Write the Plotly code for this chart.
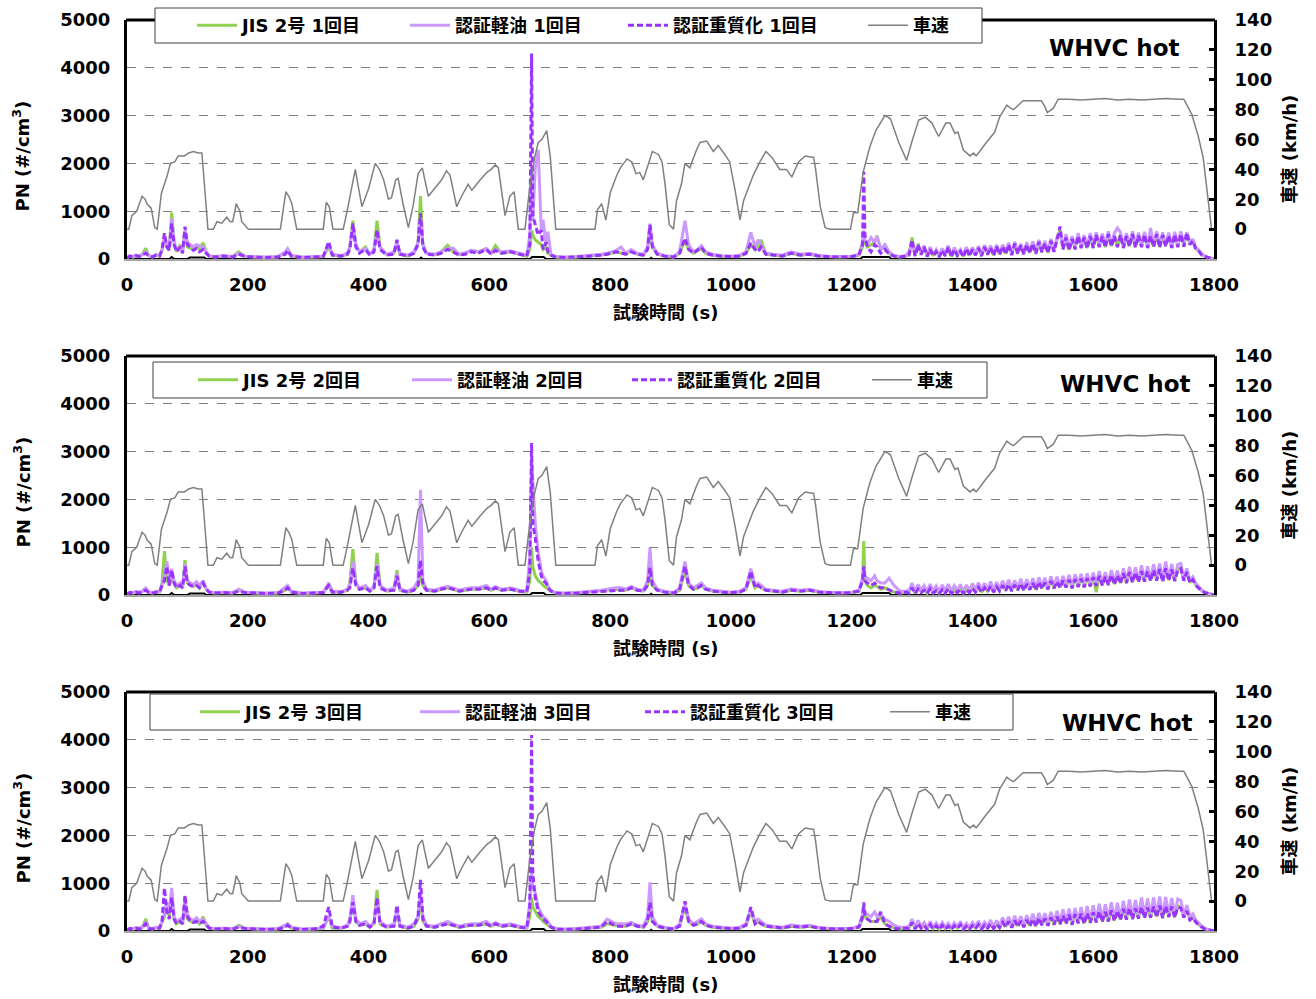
import plotly.graph_objects as go

W, H = 1316, 999
FONT = "DejaVu Sans, Noto Sans CJK JP, sans-serif"

X_TICKS = [0, 200, 400, 600, 800, 1000, 1200, 1400, 1600, 1800]
PN_TICKS = [0, 1000, 2000, 3000, 4000, 5000]
SPEED_TICKS = [0, 20, 40, 60, 80, 100, 120, 140]

RUN_LABELS = ["1回目", "2回目", "3回目"]
FUEL_NAMES = ["JIS 2号", "認証軽油", "認証重質化"]
SPEED_NAME = "車速"

# vehicle speed (s, km/h)
SPEED = [(0, 0), (3, 0), (8, 9), (16, 12), (25, 22), (30, 20), (33, 17), (40, 14), (46, 1), (50, 0),
         (57, 24), (66, 35), (72, 44), (79, 45), (85, 49), (95, 49), (102, 51), (110, 52), (118, 51), (124, 51),
         (129, 26), (134, 0), (143, 0), (149, 5), (157, 4), (165, 8), (171, 5), (175, 5), (181, 17), (187, 12),
         (190, 5), (201, 0), (254, 0), (263, 25), (268, 22), (273, 17), (281, 0), (325, 0), (330, 18), (335, 15),
         (341, 0), (358, 0), (364, 11), (378, 40), (389, 15), (400, 27), (411, 44), (418, 40), (425, 33), (433, 20),
         (438, 21), (445, 33), (449, 34), (457, 17), (466, 1), (474, 16), (482, 37), (489, 41), (499, 22), (507, 26),
         (521, 33), (529, 39), (535, 36), (546, 15), (554, 22), (565, 30), (571, 26), (585, 33), (596, 38), (603, 40),
         (610, 43), (615, 41), (620, 26), (626, 9), (634, 22), (641, 25), (648, 0), (659, 0), (667, 28), (675, 48),
         (681, 58), (687, 60), (695, 66), (701, 48), (710, 0), (775, 0), (779, 13), (786, 17), (793, 6), (800, 24),
         (811, 36), (817, 41), (828, 47), (836, 45), (843, 37), (849, 38), (855, 33), (864, 45), (870, 52), (880, 50),
         (886, 45), (891, 30), (898, 3), (905, 0), (910, 19), (918, 30), (924, 44), (932, 41), (943, 53), (949, 58),
         (960, 59), (971, 52), (979, 56), (990, 50), (998, 45), (1007, 26), (1015, 6), (1021, 19), (1029, 28), (1037, 36),
         (1048, 45), (1058, 52), (1068, 48), (1081, 40), (1092, 40), (1101, 35), (1112, 45), (1123, 49), (1137, 48), (1140, 41),
         (1148, 15), (1156, 1), (1164, 0), (1198, 0), (1203, 11), (1210, 11), (1219, 38), (1230, 55), (1240, 66), (1255, 76),
         (1264, 74), (1278, 58), (1291, 46), (1300, 59), (1311, 73), (1322, 75), (1333, 71), (1344, 62), (1356, 71), (1363, 71),
         (1371, 64), (1376, 65), (1385, 53), (1396, 49), (1402, 51), (1406, 49), (1412, 52), (1421, 57), (1437, 65), (1445, 75),
         (1457, 83), (1463, 81), (1468, 80), (1476, 83), (1484, 86), (1500, 86), (1514, 86), (1520, 82), (1524, 78), (1534, 81),
         (1542, 87), (1560, 87), (1580, 86.5), (1600, 87), (1620, 87.5), (1640, 86.5), (1660, 87), (1680, 86.5), (1700, 87), (1720, 87.5),
         (1741, 87), (1750, 87), (1763, 77), (1774, 62), (1782, 48), (1791, 19), (1796, 0), (1800, 0)]

# PN sample times before 1295 s
T_EARLY = [0, 5, 10, 15, 20, 25, 31, 36, 42, 48,
           54, 58, 62, 66, 70, 74, 78, 82, 88, 92,
           96, 100, 105, 110, 115, 120, 126, 131, 136, 145,
           160, 175, 185, 195, 210, 230, 250, 262, 266, 272,
           290, 310, 325, 334, 340, 355, 365, 369, 374, 379,
           385, 395, 402, 409, 414, 419, 430, 442, 447, 452,
           465, 475, 482, 486, 490, 496, 510, 520, 531, 540,
           550, 560, 570, 582, 595, 603, 610, 620, 635, 650,
           662, 667, 669, 670, 672, 676, 681, 686, 689, 694,
           697, 702, 710, 725, 745, 765, 785, 795, 810, 818,
           826, 835, 845, 855, 862, 866, 870, 878, 890, 905,
           915, 924, 930, 938, 945, 951, 958, 970, 985, 1000,
           1015, 1025, 1033, 1040, 1045, 1050, 1058, 1070, 1085, 1100,
           1115, 1130, 1145, 1160, 1180, 1200, 1212, 1218, 1220, 1222,
           1226, 1232, 1238, 1242, 1248, 1255, 1262, 1270, 1280, 1290]
# PN sample times from 1295 s to 1800 s
T_LATE = list(range(1295, 1801, 5))

# ---- run 1 (#/cm3)
JIS_1 = [30, 60, 40, 70, 60, 90, 223, 70, 40, 80,
         60, 200, 400, 300, 200, 970, 350, 150, 300, 150,
         600, 250, 230, 200, 250, 200, 340, 150, 60, 40,
         60, 50, 150, 60, 40, 30, 40, 120, 160, 60,
         30, 40, 50, 250, 80, 60, 100, 250, 802, 300,
         150, 250, 100, 180, 800, 250, 90, 120, 300, 100,
         60, 120, 350, 1318, 300, 120, 90, 150, 290, 150,
         90, 120, 180, 150, 220, 120, 280, 120, 150, 100,
         60, 200, 400, 600, 500, 400, 350, 300, 200, 250,
         120, 80, 40, 30, 40, 60, 80, 100, 150, 120,
         100, 180, 100, 80, 200, 600, 250, 100, 60, 40,
         120, 400, 200, 120, 180, 220, 120, 80, 60, 50,
         60, 120, 300, 200, 250, 400, 100, 80, 60, 120,
         80, 100, 60, 50, 40, 50, 80, 250, 500, 350,
         250, 300, 350, 488, 200, 250, 120, 60, 40, 60]
KEIYU_1 = [30, 70, 50, 80, 60, 90, 150, 70, 50, 90,
           70, 180, 450, 300, 250, 850, 350, 200, 250, 150,
           600, 350, 300, 250, 300, 280, 250, 150, 70, 50,
           70, 50, 120, 60, 50, 40, 50, 150, 220, 80,
           40, 50, 60, 300, 100, 70, 120, 250, 700, 300,
           150, 220, 100, 200, 550, 250, 100, 150, 380, 120,
           80, 150, 350, 850, 300, 120, 100, 150, 220, 230,
           100, 130, 180, 150, 220, 120, 200, 150, 170, 120,
           80, 500, 1200, 1950, 800, 1900, 2280, 600, 816, 300,
           571, 100, 50, 40, 50, 70, 100, 120, 180, 250,
           120, 200, 120, 100, 250, 740, 300, 120, 70, 50,
           150, 802, 300, 150, 200, 280, 150, 100, 70, 60,
           80, 150, 558, 250, 400, 300, 120, 100, 80, 150,
           100, 120, 80, 60, 50, 60, 100, 350, 600, 400,
           300, 450, 350, 480, 200, 300, 150, 80, 50, 80]
HQ_1 = [20, 60, 40, 70, 50, 80, 120, 60, 40, 80,
        60, 200, 537, 250, 180, 746, 300, 150, 250, 120,
        677, 300, 250, 180, 220, 150, 200, 120, 60, 40,
        60, 40, 100, 50, 40, 30, 40, 100, 180, 60,
        30, 40, 50, 363, 80, 60, 100, 200, 746, 250,
        120, 200, 80, 150, 610, 200, 80, 100, 400, 100,
        60, 120, 300, 955, 250, 100, 80, 120, 200, 150,
        80, 100, 150, 120, 200, 100, 180, 120, 150, 100,
        60, 300, 4300, 4300, 900, 700, 500, 600, 200, 350,
        150, 80, 40, 30, 40, 60, 80, 100, 150, 120,
        100, 150, 100, 80, 200, 711, 250, 100, 60, 40,
        120, 432, 200, 120, 180, 250, 120, 80, 60, 50,
        60, 120, 330, 200, 150, 250, 100, 80, 60, 120,
        80, 100, 60, 50, 40, 50, 80, 300, 1827, 500,
        250, 150, 300, 250, 120, 200, 100, 60, 40, 60]
JIS_1_LATE = [100, 450, 70, 320, 100, 260, 60, 220, 70, 170,
              50, 200, 70, 260, 50, 210, 80, 170, 50, 230,
              70, 210, 90, 240, 70, 260, 100, 250, 80, 270,
              100, 270, 110, 310, 90, 330, 120, 290, 110, 320,
              130, 340, 120, 370, 150, 340, 130, 390, 160, 420,
              620, 210, 460, 190, 430, 210, 490, 240, 460, 230,
              490, 240, 510, 260, 480, 250, 530, 270, 490, 260,
              510, 240, 490, 270, 530, 250, 500, 260, 520, 240,
              490, 260, 530, 250, 510, 270, 500, 240, 520, 260,
              560, 270, 540, 310, 390, 210, 170, 90, 55, 32,
              16, 5]
KEIYU_1_LATE = [150, 350, 100, 300, 150, 280, 80, 250, 100, 200,
                80, 220, 100, 280, 80, 240, 110, 200, 90, 250,
                100, 240, 120, 270, 100, 290, 130, 280, 110, 300,
                130, 300, 150, 340, 120, 360, 150, 320, 140, 350,
                160, 370, 150, 400, 180, 380, 170, 420, 190, 450,
                550, 260, 520, 240, 480, 260, 540, 280, 500, 270,
                540, 290, 560, 300, 530, 290, 580, 310, 540, 650,
                560, 290, 540, 310, 580, 300, 550, 310, 570, 290,
                650, 300, 580, 290, 560, 310, 550, 280, 570, 300,
                580, 310, 560, 340, 420, 240, 190, 100, 60, 35,
                18, 6]
HQ_1_LATE = [80, 400, 60, 300, 90, 250, 50, 200, 60, 150,
             40, 180, 60, 250, 40, 200, 70, 160, 40, 220,
             60, 200, 80, 230, 60, 250, 90, 240, 70, 260,
             90, 260, 100, 300, 80, 320, 110, 280, 100, 300,
             120, 320, 110, 360, 140, 330, 120, 380, 150, 400,
             680, 200, 450, 180, 420, 200, 480, 230, 450, 220,
             480, 230, 500, 250, 470, 240, 520, 260, 480, 250,
             500, 230, 480, 260, 520, 240, 490, 250, 510, 230,
             480, 250, 520, 240, 500, 260, 490, 230, 510, 250,
             520, 260, 550, 300, 380, 200, 160, 80, 50, 30,
             15, 5]

# ---- run 2 (#/cm3)
JIS_2 = [30, 50, 40, 60, 50, 70, 120, 60, 40, 70,
         60, 250, 920, 300, 200, 400, 250, 150, 200, 150,
         730, 250, 200, 180, 220, 150, 300, 120, 60, 40,
         50, 40, 100, 60, 40, 30, 40, 100, 180, 60,
         30, 40, 50, 200, 60, 60, 100, 250, 960, 250,
         120, 150, 80, 150, 880, 200, 80, 100, 520, 100,
         60, 100, 200, 400, 200, 100, 80, 120, 150, 120,
         80, 100, 130, 120, 150, 100, 150, 100, 120, 80,
         60, 300, 700, 1000, 600, 400, 300, 250, 200, 150,
         120, 80, 40, 30, 40, 60, 80, 100, 120, 100,
         100, 150, 100, 80, 200, 500, 200, 100, 60, 40,
         100, 500, 200, 120, 150, 200, 120, 80, 60, 50,
         60, 120, 400, 150, 200, 150, 100, 80, 60, 100,
         80, 100, 60, 50, 40, 50, 80, 300, 1130, 300,
         200, 150, 200, 180, 120, 150, 100, 60, 40, 60]
KEIYU_2 = [30, 60, 50, 70, 60, 80, 150, 70, 50, 80,
           70, 200, 400, 700, 300, 550, 300, 200, 250, 150,
           650, 300, 250, 220, 280, 200, 300, 150, 70, 50,
           60, 50, 120, 60, 50, 40, 50, 150, 200, 80,
           40, 50, 60, 250, 80, 70, 120, 200, 700, 250,
           150, 200, 100, 180, 650, 200, 100, 150, 450, 120,
           80, 150, 300, 2200, 300, 120, 100, 150, 180, 150,
           100, 130, 150, 150, 200, 120, 180, 120, 150, 100,
           80, 800, 2000, 2820, 2400, 1500, 900, 500, 400, 300,
           200, 100, 50, 40, 50, 70, 100, 120, 150, 150,
           120, 180, 120, 100, 300, 980, 300, 120, 80, 50,
           150, 700, 250, 150, 200, 250, 150, 100, 80, 60,
           80, 150, 550, 200, 250, 200, 120, 100, 80, 130,
           100, 120, 80, 60, 50, 60, 100, 350, 500, 400,
           350, 300, 400, 300, 250, 250, 350, 200, 80, 80]
HQ_2 = [20, 50, 40, 60, 40, 60, 100, 50, 40, 60,
        60, 200, 300, 600, 200, 520, 250, 150, 200, 150,
        600, 250, 200, 180, 200, 150, 250, 120, 60, 40,
        50, 40, 80, 50, 40, 30, 40, 100, 150, 60,
        30, 40, 50, 200, 60, 60, 100, 150, 560, 200,
        120, 150, 80, 150, 600, 150, 80, 100, 400, 100,
        60, 100, 200, 730, 200, 100, 80, 120, 150, 120,
        80, 100, 120, 120, 150, 100, 150, 100, 120, 80,
        60, 500, 3180, 3180, 1500, 1200, 700, 400, 300, 250,
        150, 80, 40, 30, 40, 60, 80, 80, 100, 100,
        100, 150, 100, 80, 200, 570, 200, 100, 60, 40,
        100, 600, 200, 120, 150, 200, 120, 80, 60, 50,
        60, 120, 500, 150, 200, 150, 100, 80, 60, 100,
        80, 100, 60, 50, 40, 50, 80, 300, 600, 300,
        250, 200, 250, 200, 150, 150, 100, 60, 40, 60]
JIS_2_LATE = [60, 180, 40, 150, 70, 130, 40, 160, 50, 110,
              40, 130, 50, 160, 40, 120, 60, 140, 40, 130,
              60, 170, 70, 190, 60, 170, 80, 200, 70, 190,
              90, 220, 100, 240, 90, 230, 110, 260, 100, 250,
              120, 270, 110, 290, 140, 280, 130, 310, 150, 300,
              160, 320, 170, 340, 150, 350, 180, 360, 170, 370,
              190, 390, 60, 420, 210, 400, 220, 440, 230, 430,
              250, 470, 260, 500, 270, 490, 280, 520, 290, 510,
              300, 540, 310, 560, 290, 580, 310, 550, 300, 540,
              570, 310, 500, 260, 340, 210, 150, 90, 55, 32,
              16, 5]
KEIYU_2_LATE = [100, 250, 80, 220, 100, 200, 80, 230, 90, 190,
                80, 210, 90, 230, 80, 200, 100, 220, 80, 210,
                100, 240, 110, 260, 100, 250, 120, 280, 110, 270,
                130, 300, 140, 320, 130, 310, 150, 340, 140, 330,
                160, 350, 150, 370, 180, 360, 170, 390, 190, 380,
                200, 400, 210, 420, 190, 430, 220, 440, 210, 450,
                230, 470, 240, 500, 250, 480, 260, 520, 270, 510,
                290, 560, 300, 590, 310, 580, 320, 620, 330, 600,
                340, 640, 350, 660, 330, 700, 350, 650, 340, 640,
                660, 350, 560, 300, 380, 240, 170, 100, 60, 35,
                18, 6]
HQ_2_LATE = [40, 150, 30, 120, 50, 100, 30, 130, 40, 90,
             30, 110, 40, 130, 30, 100, 50, 120, 30, 110,
             50, 140, 60, 160, 50, 150, 70, 180, 60, 170,
             80, 200, 90, 220, 80, 210, 100, 240, 90, 230,
             110, 250, 100, 270, 130, 260, 120, 290, 140, 280,
             150, 300, 160, 320, 140, 330, 170, 340, 160, 350,
             180, 370, 190, 400, 200, 380, 210, 420, 220, 410,
             240, 450, 250, 480, 260, 470, 270, 500, 280, 490,
             290, 520, 300, 540, 280, 560, 300, 530, 290, 520,
             550, 300, 480, 250, 320, 200, 140, 80, 50, 30,
             15, 5]

# ---- run 3 (#/cm3)
JIS_3 = [30, 50, 40, 60, 50, 70, 250, 60, 40, 70,
         60, 200, 300, 550, 300, 800, 250, 150, 200, 150,
         600, 250, 200, 180, 220, 150, 300, 120, 60, 40,
         50, 40, 120, 60, 40, 30, 40, 100, 150, 60,
         30, 40, 50, 300, 60, 60, 100, 200, 600, 200,
         120, 150, 80, 150, 860, 150, 80, 100, 400, 100,
         60, 100, 250, 700, 200, 100, 80, 150, 150, 120,
         80, 100, 130, 120, 150, 100, 150, 100, 120, 80,
         60, 300, 600, 700, 500, 400, 300, 250, 200, 150,
         120, 80, 40, 30, 40, 60, 80, 150, 120, 100,
         100, 150, 100, 80, 200, 500, 200, 100, 60, 40,
         100, 500, 200, 120, 150, 200, 120, 80, 60, 50,
         60, 120, 400, 150, 200, 150, 100, 80, 60, 100,
         80, 100, 60, 50, 40, 50, 80, 250, 550, 300,
         250, 200, 200, 200, 300, 150, 100, 60, 40, 60]
KEIYU_3 = [30, 60, 50, 70, 60, 80, 180, 70, 50, 80,
           70, 200, 400, 600, 400, 900, 300, 200, 250, 150,
           650, 350, 250, 220, 280, 200, 250, 150, 70, 50,
           60, 50, 100, 60, 50, 40, 50, 120, 150, 80,
           40, 50, 60, 300, 100, 70, 120, 250, 750, 250,
           150, 200, 100, 180, 650, 200, 100, 150, 450, 120,
           80, 150, 300, 800, 300, 120, 100, 150, 200, 150,
           100, 130, 150, 150, 200, 120, 180, 120, 150, 100,
           80, 600, 1000, 1270, 900, 800, 500, 350, 300, 250,
           200, 100, 50, 40, 50, 70, 100, 250, 150, 150,
           150, 180, 120, 100, 300, 1020, 300, 120, 80, 50,
           150, 550, 250, 150, 200, 250, 150, 100, 80, 60,
           80, 150, 450, 200, 250, 200, 120, 100, 80, 130,
           100, 120, 80, 60, 50, 60, 100, 350, 450, 400,
           350, 300, 400, 300, 350, 250, 200, 120, 80, 80]
HQ_3 = [20, 50, 40, 60, 40, 60, 150, 50, 40, 60,
        60, 200, 900, 400, 250, 700, 250, 150, 200, 150,
        750, 300, 200, 180, 200, 150, 200, 120, 60, 40,
        50, 40, 80, 50, 40, 30, 40, 80, 120, 60,
        30, 40, 100, 500, 80, 60, 100, 200, 600, 200,
        120, 150, 80, 150, 700, 150, 80, 100, 540, 100,
        60, 100, 300, 1070, 250, 100, 80, 120, 150, 120,
        80, 100, 120, 120, 150, 100, 150, 100, 120, 80,
        60, 500, 4100, 4100, 1200, 700, 400, 300, 250, 200,
        150, 80, 40, 30, 40, 60, 80, 200, 100, 100,
        100, 150, 100, 80, 200, 600, 200, 100, 60, 40,
        100, 620, 200, 120, 150, 200, 120, 80, 60, 50,
        60, 120, 500, 150, 200, 150, 100, 80, 60, 100,
        80, 100, 60, 50, 40, 50, 80, 300, 600, 300,
        250, 200, 200, 200, 400, 150, 100, 60, 40, 60]
JIS_3_LATE = [70, 200, 50, 170, 80, 140, 40, 150, 50, 130,
              40, 140, 50, 120, 40, 130, 60, 150, 40, 120,
              50, 130, 60, 160, 50, 140, 70, 180, 60, 160,
              80, 210, 90, 230, 80, 250, 100, 240, 90, 260,
              110, 280, 100, 300, 130, 290, 120, 320, 140, 340,
              150, 360, 160, 380, 140, 390, 170, 400, 160, 410,
              180, 430, 190, 450, 200, 440, 210, 470, 220, 460,
              240, 490, 250, 510, 260, 500, 270, 530, 280, 520,
              290, 540, 300, 560, 280, 550, 300, 540, 290, 530,
              500, 300, 440, 250, 300, 190, 130, 80, 45, 22,
              12, 5]
KEIYU_3_LATE = [100, 250, 80, 220, 100, 180, 70, 200, 80, 170,
                70, 180, 80, 160, 70, 170, 90, 200, 70, 160,
                80, 180, 90, 210, 80, 190, 100, 230, 90, 220,
                120, 280, 130, 300, 120, 320, 140, 310, 130, 330,
                160, 360, 150, 380, 180, 370, 170, 400, 190, 420,
                200, 450, 210, 470, 190, 480, 220, 500, 210, 520,
                230, 540, 240, 570, 250, 560, 260, 600, 270, 590,
                290, 630, 300, 660, 310, 650, 320, 700, 330, 680,
                340, 700, 350, 720, 330, 710, 350, 690, 340, 670,
                640, 350, 540, 300, 360, 230, 160, 100, 55, 30,
                15, 6]
HQ_3_LATE = [50, 180, 40, 150, 60, 120, 30, 130, 40, 110,
             30, 120, 40, 100, 30, 110, 50, 130, 30, 100,
             40, 110, 50, 130, 40, 120, 60, 150, 50, 140,
             70, 180, 80, 200, 70, 220, 90, 210, 80, 230,
             100, 250, 90, 270, 120, 260, 110, 280, 130, 300,
             140, 320, 150, 340, 130, 350, 160, 360, 150, 370,
             170, 390, 180, 410, 190, 400, 200, 430, 210, 420,
             230, 460, 240, 480, 250, 470, 260, 500, 270, 490,
             280, 510, 290, 530, 270, 520, 290, 510, 280, 500,
             480, 280, 420, 230, 280, 180, 120, 70, 40, 20,
             10, 5]

# small black baseline series near zero
BLACK = [(0, 0), (70, 0), (74, 40), (78, 0), (100, 0), (104, 30), (128, 30), (132, 0), (485, 0), (487, 30), (490, 0),
         (667, 0), (671, 40), (690, 40), (694, 0), (866, 0), (868, 25), (870, 0), (1214, 0), (1218, 40), (1262, 40),
         (1266, 0), (1800, 0)]

PANELS = [
    (JIS_1, JIS_1_LATE, KEIYU_1, KEIYU_1_LATE, HQ_1, HQ_1_LATE),
    (JIS_2, JIS_2_LATE, KEIYU_2, KEIYU_2_LATE, HQ_2, HQ_2_LATE),
    (JIS_3, JIS_3_LATE, KEIYU_3, KEIYU_3_LATE, HQ_3, HQ_3_LATE),
]

COL_JIS = "#92D050"
COL_KEIYU = "#CC99FF"
COL_HQ = "#9933FF"
COL_SPEED = "#808080"

# layout geometry (px)
PLOT_L, PLOT_R = 127, 1214
PANEL_PX = [(20, 259), (356, 595), (692, 931)]
LEG_BOX = [(155, 8, 982, 43), (153, 362, 987, 398), (150, 694, 1013, 730)]
LEG_START = [197, 198, 200]
LEG_WIDTHS = [(158, 163, 185, 40), (159, 165, 185, 40), (165, 170, 190, 40)]
WHVC_POS = [(1114, 48), (1125, 384), (1127, 723)]


def px_x(v):
    return v / W


def px_y(v):
    return 1 - v / H


def combine(early, late):
    assert len(early) == len(T_EARLY), len(early)
    assert len(late) == len(T_LATE), len(late)
    return T_EARLY + T_LATE, list(early) + list(late)


fig = go.Figure()
bold = dict(family=FONT, size=18, color="black", weight=700)
annotations = []
shapes = []
layout = {}

sp_t = [p[0] for p in SPEED]
sp_v = [p[1] for p in SPEED]
bk_t = [p[0] for p in BLACK]
bk_v = [p[1] for p in BLACK]


def ann(text, x, y, size=18, angle=0):
    return dict(text=text, xref="paper", yref="paper", x=px_x(x), y=px_y(y), xanchor="center",
                yanchor="middle", textangle=angle, showarrow=False,
                font=dict(family=FONT, size=size, color="black", weight=700))


for k in range(3):
    jis, jis_l, kei, kei_l, hq, hq_l = PANELS[k]
    sfx = "" if k == 0 else str(k + 1)
    xa = "x" + sfx
    ya = "y" + sfx
    ya_r = "y" + str(k + 4)
    leg = "legend" + sfx
    lw = LEG_WIDTHS[k]

    fig.add_trace(go.Scatter(x=bk_t, y=bk_v, mode="lines", line=dict(color="black", width=2),
                             xaxis=xa, yaxis=ya, showlegend=False, hoverinfo="skip"))
    t, v = combine(jis, jis_l)
    fig.add_trace(go.Scatter(x=t, y=v, mode="lines", name=f"{FUEL_NAMES[0]} {RUN_LABELS[k]}",
                             line=dict(color=COL_JIS, width=3), xaxis=xa, yaxis=ya,
                             legend=leg, legendwidth=lw[0], legendrank=1))
    t, v = combine(kei, kei_l)
    fig.add_trace(go.Scatter(x=t, y=v, mode="lines", name=f"{FUEL_NAMES[1]} {RUN_LABELS[k]}",
                             line=dict(color=COL_KEIYU, width=3), xaxis=xa, yaxis=ya,
                             legend=leg, legendwidth=lw[1], legendrank=2))
    t, v = combine(hq, hq_l)
    fig.add_trace(go.Scatter(x=t, y=v, mode="lines", name=f"{FUEL_NAMES[2]} {RUN_LABELS[k]}",
                             line=dict(color=COL_HQ, width=3, dash="6px,3px"), xaxis=xa, yaxis=ya,
                             legend=leg, legendwidth=lw[2], legendrank=3))
    fig.add_trace(go.Scatter(x=sp_t, y=sp_v, mode="lines", name=SPEED_NAME,
                             line=dict(color=COL_SPEED, width=1.5), xaxis=xa, yaxis=ya_r,
                             legend=leg, legendwidth=lw[3], legendrank=4))

    top, bot = PANEL_PX[k]
    ydom = [px_y(bot), px_y(top)]
    xdom = [px_x(PLOT_L), px_x(PLOT_R)]

    layout["xaxis" + sfx] = dict(domain=xdom, anchor=ya, range=[0, 1800], tickvals=X_TICKS,
                                 showgrid=False, zeroline=False, showline=True, linecolor="#A6A6A6",
                                 linewidth=2, ticks="", tickfont=bold, ticklabelstandoff=8,
                                 automargin=False)
    layout["yaxis" + sfx] = dict(domain=ydom, anchor=xa, range=[0, 5000], tickvals=PN_TICKS,
                                 showgrid=True, gridcolor="#7F7F7F", griddash="dash", gridwidth=1,
                                 zeroline=False, showline=True, linecolor="black", linewidth=3,
                                 ticks="", tickfont=bold, ticklabelstandoff=10, automargin=False)
    # right speed axis: labels
    layout["yaxis" + str(k + 4)] = dict(overlaying=ya, anchor=xa, side="right", range=[-20, 140],
                                        tickvals=SPEED_TICKS, showgrid=False, zeroline=False,
                                        showline=True, linecolor="black", linewidth=3,
                                        ticks="", tickfont=bold, ticklabelstandoff=14, automargin=False)
    # right speed axis: inside tick marks
    layout["yaxis" + str(k + 7)] = dict(overlaying=ya, anchor=xa, side="right", range=[-20, 140],
                                        tickvals=SPEED_TICKS, showgrid=False, zeroline=False,
                                        showline=False, showticklabels=False, ticks="inside",
                                        ticklen=5, tickwidth=3, tickcolor="black", automargin=False)

    # top border
    shapes.append(dict(type="line", xref="paper", yref="paper", x0=px_x(PLOT_L - 1), x1=px_x(PLOT_R + 1),
                       y0=px_y(top), y1=px_y(top), line=dict(color="black", width=3), layer="above"))
    # legend box
    bx0, by0, bx1, by1 = LEG_BOX[k]
    shapes.append(dict(type="rect", xref="paper", yref="paper", x0=px_x(bx0), x1=px_x(bx1),
                       y0=px_y(by1), y1=px_y(by0), line=dict(color="#404040", width=1),
                       fillcolor="white", layer="above"))
    layout[leg] = dict(orientation="h", x=px_x(LEG_START[k] - 5), xanchor="left",
                       y=px_y((by0 + by1) / 2), yanchor="middle", bgcolor="rgba(0,0,0,0)",
                       borderwidth=0, itemwidth=40, traceorder="normal",
                       font=dict(family=FONT, size=18, color="black", weight=700))

    cy = (top + bot) / 2
    annotations.append(ann("PN (#/cm<sup>3</sup>)", 22, cy + 17, angle=-90))
    annotations.append(ann("車速 (km/h)", 1289, cy + 10, angle=-90))
    annotations.append(ann("試験時間 (s)", 665, bot + 53))
    wx, wy = WHVC_POS[k]
    annotations.append(ann("WHVC hot", wx, wy, size=23))

# tick-mark-only axes have no traces; give each an invisible anchor trace
for k in range(3):
    sfx = "" if k == 0 else str(k + 1)
    fig.add_trace(go.Scatter(x=[None], y=[None], xaxis="x" + sfx, yaxis="y" + str(k + 7),
                             showlegend=False, hoverinfo="skip"))

fig.update_layout(width=W, height=H, margin=dict(l=0, r=0, t=0, b=0), plot_bgcolor="white",
                  paper_bgcolor="white", font=dict(family=FONT, color="black"),
                  annotations=annotations, shapes=shapes, hovermode=False, **layout)
fig.write_html("out.html")
